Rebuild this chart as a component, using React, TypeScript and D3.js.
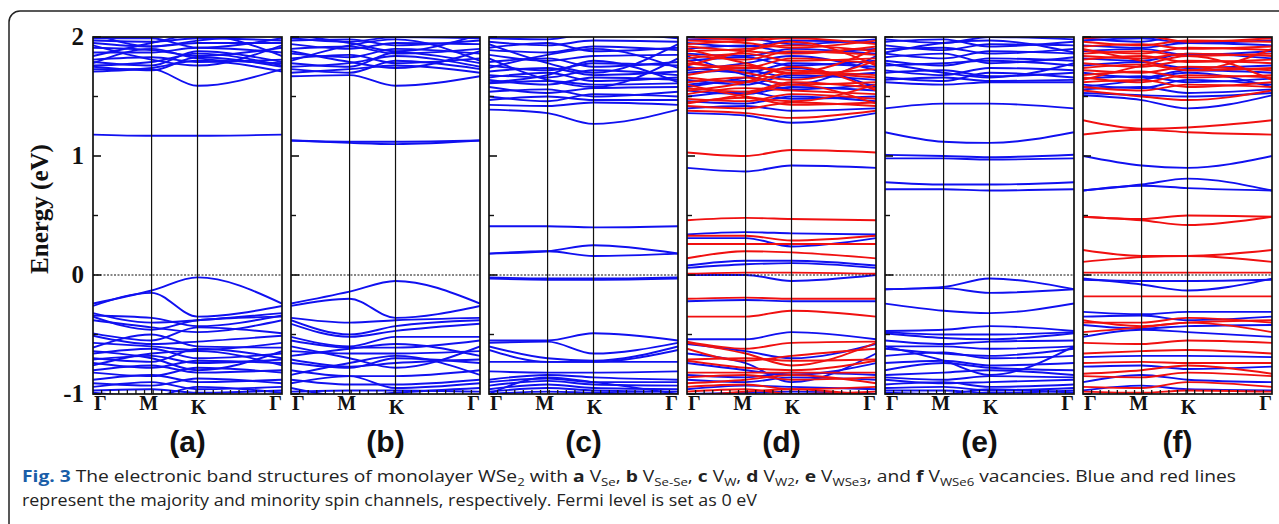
import * as d3 from "d3";

// k-path: fractional positions of high-symmetry points along each panel
const kLabels = ["Γ", "M", "K", "Γ"];
const kPos = [0, 0.31, 0.553, 1];
const yMajor = [-1, 0, 1, 2];
const yMinor = [-0.5, 0.5, 1.5];
const panelNames = ["(a)", "(b)", "(c)", "(d)", "(e)", "(f)"];

// each band: energy (eV) at [Γ, M, K]; Γ is repeated at the end of the path
const aUp = [
  [1.73, 1.73, 1.59], [1.71, 1.74, 1.8], [1.75, 1.72, 1.83], [1.76, 1.79, 1.86],
  [1.79, 1.76, 1.88], [1.81, 1.83, 1.79], [1.87, 1.87, 1.91], [1.91, 1.89, 1.84],
  [1.95, 1.92, 1.95], [1.97, 1.96, 1.99], [1.99, 1.99, 1.91], [1.84, 1.95, 2.02],
  [2.03, 1.92, 1.97], [1.78, 1.9, 1.82], [1.93, 1.81, 1.76],
  [1.18, 1.17, 1.17],
  [-0.24, -0.13, -0.02], [-0.26, -0.15, -0.35], [-0.32, -0.4, -0.38], [-0.34, -0.36, -0.43],
  [-0.35, -0.46, -0.38], [-0.38, -0.44, -0.48], [-0.49, -0.55, -0.44], [-0.51, -0.58, -0.56],
  [-0.57, -0.6, -0.63], [-0.61, -0.5, -0.6], [-0.66, -0.62, -0.7], [-0.7, -0.73, -0.62],
  [-0.71, -0.68, -0.74], [-0.74, -0.78, -0.72], [-0.8, -0.76, -0.82], [-0.82, -0.85, -0.78],
  [-0.88, -0.84, -0.9], [-0.91, -0.93, -0.87], [-0.94, -0.9, -0.96], [-0.97, -0.96, -0.99],
  [-0.99, -1.02, -0.94], [-0.64, -0.7, -0.8], [-0.76, -0.66, -0.64],
];

const bUp = [
  [1.67, 1.68, 1.59], [1.7, 1.73, 1.76], [1.73, 1.7, 1.8], [1.75, 1.78, 1.84],
  [1.78, 1.75, 1.87], [1.82, 1.85, 1.78], [1.86, 1.83, 1.9], [1.9, 1.92, 1.86],
  [1.94, 1.9, 1.95], [1.97, 1.98, 1.93], [1.99, 1.96, 2.0], [1.8, 1.93, 1.98],
  [1.88, 1.79, 1.74], [2.02, 1.95, 1.88],
  [1.13, 1.11, 1.1], [1.13, 1.12, 1.12],
  [-0.24, -0.14, -0.05], [-0.26, -0.2, -0.36], [-0.36, -0.4, -0.38], [-0.38, -0.5, -0.43],
  [-0.41, -0.52, -0.47], [-0.52, -0.6, -0.52], [-0.55, -0.61, -0.61], [-0.64, -0.66, -0.66],
  [-0.68, -0.62, -0.58], [-0.71, -0.77, -0.74], [-0.74, -0.78, -0.7], [-0.8, -0.85, -0.85],
  [-0.88, -0.92, -0.92], [-0.91, -0.85, -0.95], [-0.98, -0.97, -0.97], [-0.95, -1.02, -0.99],
  [-0.6, -0.7, -0.78], [-0.84, -0.74, -0.68],
];

const cUp = [
  [1.39, 1.36, 1.27], [1.43, 1.42, 1.45], [1.47, 1.5, 1.47], [1.5, 1.46, 1.52],
  [1.54, 1.56, 1.5], [1.58, 1.53, 1.57], [1.61, 1.63, 1.6], [1.64, 1.6, 1.66],
  [1.66, 1.7, 1.63], [1.68, 1.66, 1.72], [1.71, 1.74, 1.68], [1.76, 1.72, 1.78],
  [1.79, 1.82, 1.75], [1.85, 1.8, 1.84], [1.89, 1.87, 1.92], [1.91, 1.95, 1.88],
  [1.96, 1.93, 1.97], [1.99, 1.98, 2.03], [1.74, 1.85, 1.9], [1.62, 1.68, 1.8],
  [1.82, 1.64, 1.58], [1.94, 1.78, 1.7],
  [0.41, 0.41, 0.4], [0.18, 0.2, 0.25], [0.18, 0.2, 0.16], [-0.02, -0.03, -0.03],
  [-0.03, -0.04, -0.04],
  [-0.55, -0.55, -0.49], [-0.57, -0.56, -0.66], [-0.6, -0.7, -0.72], [-0.63, -0.73, -0.73],
  [-0.73, -0.73, -0.73], [-0.81, -0.82, -0.82], [-0.88, -0.84, -0.86], [-0.9, -0.87, -0.9],
  [-0.93, -0.89, -0.92], [-0.96, -0.92, -0.95], [-0.98, -0.95, -0.97], [-1.0, -0.98, -0.99],
  [-1.0, -0.86, -0.9],
];

const dUp = [
  [1.36, 1.34, 1.28], [1.4, 1.42, 1.38], [1.46, 1.44, 1.5], [1.5, 1.54, 1.48],
  [1.55, 1.52, 1.58], [1.6, 1.63, 1.56], [1.64, 1.6, 1.68], [1.7, 1.72, 1.66],
  [1.75, 1.7, 1.78], [1.8, 1.83, 1.76], [1.86, 1.84, 1.9], [1.9, 1.93, 1.87],
  [1.95, 1.92, 1.97], [1.98, 1.99, 1.94], [1.58, 1.66, 1.74], [1.72, 1.78, 1.84],
  [1.84, 1.68, 1.6],
  [0.9, 0.87, 0.92], [0.34, 0.36, 0.35], [0.31, 0.31, 0.24], [0.08, 0.12, 0.12],
  [0.06, 0.09, 0.1], [0.0, 0.0, -0.05], [-0.22, -0.21, -0.22],
  [-0.54, -0.54, -0.48], [-0.58, -0.64, -0.7], [-0.74, -0.8, -0.84], [-0.84, -0.86, -0.82],
  [-0.88, -0.9, -0.86], [-0.96, -0.93, -0.94], [-1.0, -0.99, -0.98], [-0.66, -0.74, -0.9],
];
const dDown = [
  [1.38, 1.36, 1.32], [1.42, 1.4, 1.45], [1.45, 1.49, 1.43], [1.48, 1.46, 1.52],
  [1.52, 1.57, 1.55], [1.57, 1.54, 1.62], [1.62, 1.66, 1.6], [1.66, 1.62, 1.7],
  [1.68, 1.74, 1.72], [1.73, 1.76, 1.69], [1.78, 1.74, 1.82], [1.82, 1.86, 1.8],
  [1.85, 1.81, 1.88], [1.88, 1.9, 1.93], [1.92, 1.88, 1.86], [1.94, 1.97, 1.99],
  [1.97, 1.95, 1.91], [2.0, 1.98, 2.02], [1.55, 1.62, 1.75], [1.8, 1.7, 1.64],
  [1.44, 1.52, 1.6], [1.9, 1.78, 1.7], [1.6, 1.5, 1.46], [1.76, 1.88, 1.96],
  [1.03, 1.0, 1.05], [0.46, 0.48, 0.47], [0.33, 0.33, 0.29], [0.26, 0.26, 0.26],
  [0.14, 0.2, 0.19], [0.01, 0.02, 0.02], [-0.2, -0.19, -0.2], [-0.35, -0.35, -0.3],
  [-0.56, -0.62, -0.57], [-0.57, -0.66, -0.76], [-0.71, -0.7, -0.72], [-0.72, -0.78, -0.8],
  [-0.82, -0.82, -0.82], [-0.86, -0.84, -0.88], [-0.91, -0.88, -0.84], [-0.94, -0.92, -0.96],
  [-0.98, -0.96, -1.0], [-1.02, -0.98, -0.96], [-0.62, -0.72, -0.68],
];

const eUp = [
  [1.62, 1.6, 1.62], [1.64, 1.66, 1.63], [1.66, 1.63, 1.7], [1.7, 1.72, 1.67],
  [1.72, 1.68, 1.74], [1.76, 1.78, 1.8], [1.8, 1.76, 1.82], [1.83, 1.86, 1.78],
  [1.86, 1.82, 1.88], [1.9, 1.91, 1.86], [1.93, 1.89, 1.94], [1.96, 1.98, 1.92],
  [1.98, 1.95, 2.0], [1.87, 1.95, 1.97], [1.78, 1.7, 1.66],
  [1.4, 1.44, 1.44], [1.2, 1.12, 1.11], [1.01, 1.0, 0.99], [0.98, 0.98, 0.97],
  [0.78, 0.76, 0.76], [0.72, 0.72, 0.71],
  [-0.12, -0.1, -0.03], [-0.12, -0.11, -0.15], [-0.24, -0.3, -0.32], [-0.47, -0.46, -0.43],
  [-0.48, -0.5, -0.5], [-0.49, -0.53, -0.54], [-0.55, -0.58, -0.56], [-0.6, -0.6, -0.62],
  [-0.62, -0.66, -0.68], [-0.68, -0.65, -0.7], [-0.74, -0.72, -0.76], [-0.8, -0.74, -0.78],
  [-0.84, -0.82, -0.8], [-0.86, -0.88, -0.85], [-0.88, -0.91, -0.9], [-0.92, -0.9, -0.94],
  [-0.95, -0.94, -0.97], [-0.97, -0.97, -0.99], [-0.99, -1.0, -0.96], [-0.6, -0.72, -0.84],
];

const fUp = [
  [1.51, 1.47, 1.4], [1.53, 1.51, 1.5], [1.56, 1.58, 1.53], [1.6, 1.57, 1.64],
  [1.65, 1.67, 1.62], [1.7, 1.66, 1.72], [1.76, 1.79, 1.74], [1.82, 1.8, 1.86],
  [1.88, 1.9, 1.85], [1.93, 1.91, 1.95], [1.97, 1.99, 1.95], [1.99, 1.96, 2.02],
  [1.58, 1.64, 1.7],
  [1.0, 0.92, 0.9], [0.71, 0.76, 0.81], [0.71, 0.75, 0.73],
  [-0.03, -0.08, -0.13], [-0.04, -0.05, -0.05], [-0.31, -0.33, -0.31], [-0.35, -0.34, -0.38],
  [-0.42, -0.45, -0.43], [-0.52, -0.46, -0.48], [-0.69, -0.68, -0.68], [-0.77, -0.76, -0.79],
  [-0.9, -0.84, -0.88], [-0.97, -0.93, -0.96],
];
const fDown = [
  [1.55, 1.5, 1.47], [1.58, 1.55, 1.6], [1.62, 1.64, 1.58], [1.66, 1.62, 1.68],
  [1.68, 1.71, 1.66], [1.72, 1.7, 1.75], [1.74, 1.77, 1.72], [1.78, 1.75, 1.8],
  [1.81, 1.84, 1.79], [1.84, 1.82, 1.86], [1.86, 1.88, 1.84], [1.89, 1.86, 1.91],
  [1.92, 1.94, 1.9], [1.96, 1.93, 1.97], [1.99, 2.01, 1.96], [1.64, 1.76, 1.84],
  [1.9, 1.8, 1.72],
  [1.3, 1.23, 1.24], [1.18, 1.22, 1.2], [0.49, 0.47, 0.5], [0.49, 0.46, 0.42],
  [0.21, 0.16, 0.16], [0.11, 0.15, 0.16], [0.02, 0.02, 0.02],
  [-0.18, -0.18, -0.18], [-0.38, -0.43, -0.4], [-0.4, -0.4, -0.36], [-0.48, -0.44, -0.4],
  [-0.57, -0.58, -0.55], [-0.66, -0.64, -0.63], [-0.74, -0.73, -0.74], [-0.83, -0.8, -0.76],
  [-0.85, -0.86, -0.82], [-0.94, -0.95, -0.9], [-0.98, -0.99, -0.97],
];

const panels = [
  { up: aUp, down: [] as number[][] },
  { up: bUp, down: [] as number[][] },
  { up: cUp, down: [] as number[][] },
  { up: dUp, down: dDown },
  { up: eUp, down: [] as number[][] },
  { up: fUp, down: fDown },
];

const W = 1279;
const H = 524;
const panelW = 189;
const panelStep = 198;
const firstLeft = 93;
const BLUE = "#1010f0";
const RED = "#f01010";

const y = d3.scaleLinear().domain([-1, 2]).range([394, 37]);

function Panel({ idx, up, down }: { idx: number; up: number[][]; down: number[][] }) {
  const x0 = firstLeft + idx * panelStep;
  const x = d3.scaleLinear().domain([0, 1]).range([x0, x0 + panelW]);
  const line = d3
    .line<number>()
    .x((_, i) => x(kPos[i]))
    .y((d) => y(d))
    .curve(d3.curveMonotoneX);
  const path = (b: number[]) => line([b[0], b[1], b[2], b[0]]) || "";
  const clipId = `clip${idx}`;
  const bottomTicks = d3.range(1, 22).map((i) => i / 22);
  return (
    <g>
      <defs>
        <clipPath id={clipId}>
          <rect x={x(0)} y={y(2)} width={panelW} height={y(-1) - y(2)} />
        </clipPath>
      </defs>
      <g clipPath={`url(#${clipId})`} fill="none" strokeWidth={1.9}>
        {up.map((b, i) => (
          <path key={"u" + i} d={path(b)} stroke={BLUE} />
        ))}
        {down.map((b, i) => (
          <path key={"d" + i} d={path(b)} stroke={RED} />
        ))}
      </g>
      {/* fermi level */}
      <line x1={x(0)} x2={x(1)} y1={y(0)} y2={y(0)} stroke="#111" strokeWidth={1.1} strokeDasharray="2,1.5" />
      {/* high-symmetry lines */}
      {[kPos[1], kPos[2]].map((k) => (
        <line key={k} x1={x(k)} x2={x(k)} y1={y(2)} y2={y(-1)} stroke="#111" strokeWidth={1.2} />
      ))}
      {yMajor.map((v) => (
        <line key={"M" + v} x1={x(0)} x2={x(0) + 8} y1={y(v)} y2={y(v)} stroke="#111" strokeWidth={1.6} />
      ))}
      {yMinor.map((v) => (
        <line key={"m" + v} x1={x(0)} x2={x(0) + 5} y1={y(v)} y2={y(v)} stroke="#111" strokeWidth={1.4} />
      ))}
      {bottomTicks.map((t) => (
        <line key={"b" + t} x1={x(t)} x2={x(t)} y1={y(-1)} y2={y(-1) - 4} stroke="#111" strokeWidth={1.3} />
      ))}
      <rect x={x(0)} y={y(2)} width={panelW} height={y(-1) - y(2)} fill="none" stroke="#111" strokeWidth={1.7} />
      <g fontFamily="'Liberation Serif', serif" fontWeight="bold" fontSize={20} fill="#111">
        <text x={x(0) + 1} y={410} textAnchor="start">{kLabels[0]}</text>
        <text x={x(kPos[1]) - 3} y={410} textAnchor="middle">{kLabels[1]}</text>
        <text x={x(kPos[2]) + 1} y={414} textAnchor="middle">{kLabels[2]}</text>
        <text x={x(1)} y={410} textAnchor="end">{kLabels[3]}</text>
      </g>
      <text
        x={x(0.5)}
        y={452}
        textAnchor="middle"
        fontFamily="'Liberation Sans', Arial, sans-serif"
        fontWeight="bold"
        fontSize={30}
        fill="#111"
      >
        {panelNames[idx]}
      </text>
    </g>
  );
}

function Sub({ t }: { t: string }) {
  return (
    <tspan baselineShift="-4" fontSize={11}>
      {t}
    </tspan>
  );
}

export default function App() {
  return (
    <svg width={W} height={H} style={{ position: "absolute", left: 0, top: 0, background: "#fff" }}>
      <rect x={9} y={11} width={1320} height={620} rx={11} fill="none" stroke="#222" strokeWidth={1.5} />
      {panels.map((p, i) => (
        <Panel key={i} idx={i} up={p.up} down={p.down} />
      ))}
      <g fontFamily="'Liberation Serif', serif" fontWeight="bold" fontSize={25} fill="#111" textAnchor="end">
        {yMajor.map((v) => (
          <text key={v} x={84} y={y(v) + 8}>
            {v}
          </text>
        ))}
      </g>
      <text
        transform="translate(48,209) rotate(-90)"
        textAnchor="middle"
        fontFamily="'Liberation Serif', serif"
        fontWeight="bold"
        fontSize={25}
        fill="#111"
      >
        Energy (eV)
      </text>
      <g fontFamily="'Open Sans', 'Noto Sans', sans-serif" fontSize={16} fill="#222">
        <text x={22} y={482} textLength={1214} lengthAdjust="spacingAndGlyphs">
          <tspan fontWeight="bold" fill="#1a5ea8">Fig. 3</tspan> The electronic band structures of monolayer WSe<Sub t="2" /> with{" "}
          <tspan fontWeight="bold">a</tspan> V<Sub t="Se" />, <tspan fontWeight="bold">b</tspan> V<Sub t="Se-Se" />,{" "}
          <tspan fontWeight="bold">c</tspan> V<Sub t="W" />, <tspan fontWeight="bold">d</tspan> V<Sub t="W2" />,{" "}
          <tspan fontWeight="bold">e</tspan> V<Sub t="WSe3" />, and <tspan fontWeight="bold">f</tspan> V<Sub t="WSe6" /> vacancies. Blue and red lines
        </text>
        <text x={22} y={506} textLength={735} lengthAdjust="spacingAndGlyphs">
          represent the majority and minority spin channels, respectively. Fermi level is set as 0 eV
        </text>
      </g>
    </svg>
  );
}
